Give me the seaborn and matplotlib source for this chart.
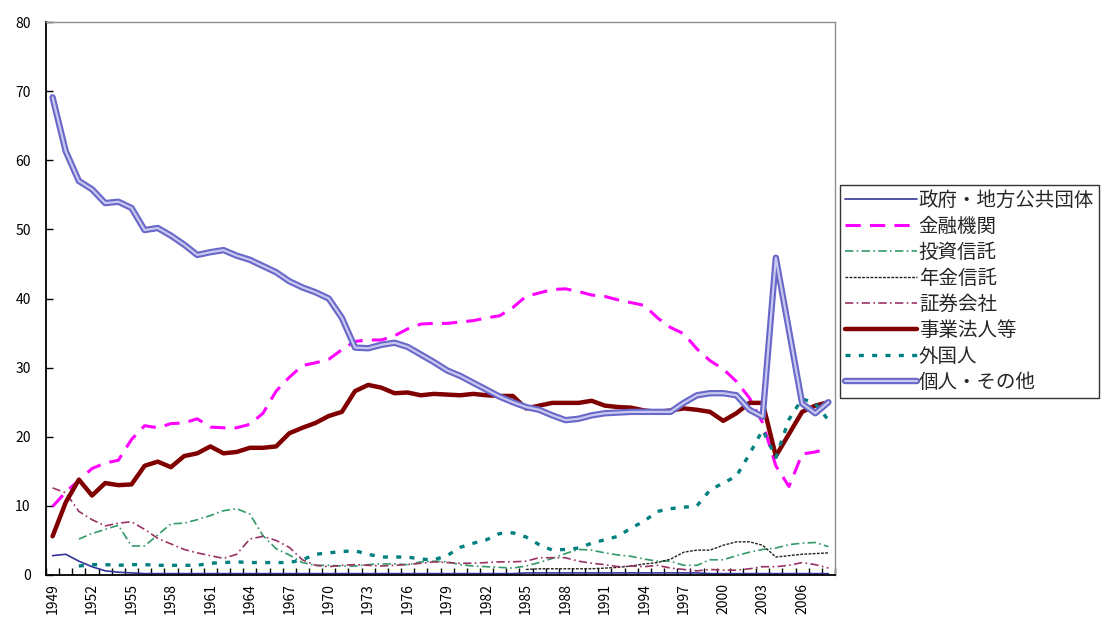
import numpy as np
import pandas as pd
import matplotlib
matplotlib.use("Agg")
import matplotlib.pyplot as plt
import matplotlib.patheffects as pe
import seaborn as sns

years = list(range(1949, 2009))

gov = [2.8, 3.0, 2.0, 1.2, 0.6, 0.4, 0.3, 0.2, 0.2, 0.2,
       0.2, 0.2, 0.2, 0.2, 0.2, 0.2, 0.2, 0.2, 0.2, 0.2,
       0.2, 0.2, 0.2, 0.2, 0.2, 0.2, 0.2, 0.2, 0.2, 0.2,
       0.2, 0.2, 0.2, 0.2, 0.2, 0.2, 0.3, 0.3, 0.3, 0.3,
       0.3, 0.3, 0.3, 0.3, 0.3, 0.3, 0.3, 0.3, 0.3, 0.3,
       0.2, 0.2, 0.2, 0.2, 0.2, 0.2, 0.2, 0.2, 0.2, 0.2]

fin = [9.9, 12.0, 13.7, 15.4, 16.2, 16.6, 19.6, 21.6, 21.3, 21.9,
       22.0, 22.6, 21.4, 21.3, 21.3, 21.8, 23.4, 26.6, 28.6, 30.3,
       30.7, 31.2, 32.6, 33.8, 34.0, 34.0, 34.6, 35.6, 36.3, 36.4,
       36.4, 36.6, 36.8, 37.2, 37.5, 38.7, 40.3, 40.8, 41.3, 41.4,
       41.0, 40.5, 40.3, 39.8, 39.4, 39.0, 37.2, 35.8, 34.9, 32.7,
       31.0, 29.8, 28.0, 25.6, 22.0, 15.8, 12.8, 17.5, 17.8, 18.3]

trust = [np.nan, np.nan, 5.2, 6.0, 6.6, 7.2, 4.2, 4.2, 5.8, 7.4,
         7.5, 8.0, 8.6, 9.3, 9.6, 8.8, 5.7, 3.8, 2.9, 1.8,
         1.4, 1.4, 1.3, 1.3, 1.5, 1.6, 1.6, 1.5, 1.9, 2.0,
         1.9, 1.5, 1.3, 1.2, 1.1, 1.0, 1.3, 1.8, 2.4, 3.1,
         3.7, 3.6, 3.2, 2.9, 2.7, 2.3, 2.0, 2.0, 1.4, 1.4,
         2.2, 2.2, 2.8, 3.3, 3.7, 3.9, 4.4, 4.6, 4.7, 4.1]

pension = [np.nan] * 36 + [0.8, 0.9, 0.9, 0.9, 0.9, 0.9, 1.0, 1.1, 1.3, 1.6,
                           1.8, 2.3, 3.3, 3.6, 3.6, 4.3, 4.8, 4.8, 4.3, 2.6,
                           2.8, 3.0, 3.1, 3.2]

sec = [12.6, 11.9, 9.2, 8.0, 7.1, 7.5, 7.7, 6.6, 5.3, 4.5,
       3.7, 3.2, 2.8, 2.4, 3.0, 5.2, 5.6, 5.0, 4.0, 2.2,
       1.4, 1.2, 1.4, 1.5, 1.4, 1.3, 1.4, 1.5, 1.7, 1.9,
       1.8, 1.7, 1.7, 1.8, 1.9, 1.9, 2.0, 2.5, 2.5, 2.5,
       2.0, 1.7, 1.5, 1.2, 1.3, 1.2, 1.4, 1.0, 0.8, 0.6,
       0.8, 0.7, 0.7, 0.9, 1.2, 1.2, 1.4, 1.8, 1.5, 1.0]

corp = [5.6, 10.5, 13.8, 11.5, 13.3, 13.0, 13.1, 15.8, 16.4, 15.6,
        17.2, 17.6, 18.6, 17.6, 17.8, 18.4, 18.4, 18.6, 20.5, 21.3,
        22.0, 23.0, 23.6, 26.6, 27.5, 27.1, 26.3, 26.4, 26.0, 26.2,
        26.1, 26.0, 26.2, 26.0, 25.9, 25.9, 24.1, 24.5, 24.9, 24.9,
        24.9, 25.2, 24.5, 24.3, 24.2, 23.8, 23.6, 23.8, 24.1, 23.9,
        23.6, 22.3, 23.4, 24.9, 24.9, 17.2, 20.4, 23.6, 24.5, 25.0]

foreign = [np.nan, np.nan, 1.3, 1.5, 1.5, 1.4, 1.5, 1.5, 1.4, 1.4,
           1.4, 1.4, 1.7, 1.8, 1.9, 1.8, 1.8, 1.8, 1.8, 2.2,
           3.0, 3.2, 3.4, 3.5, 3.0, 2.6, 2.6, 2.6, 2.3, 2.2,
           2.8, 4.0, 4.6, 5.1, 6.0, 6.1, 5.5, 4.4, 3.6, 3.7,
           3.9, 4.6, 5.1, 5.6, 6.8, 7.8, 9.2, 9.6, 9.8, 10.0,
           12.3, 13.3, 14.3, 17.5, 21.0, 17.0, 22.5, 25.5, 24.8, 22.4]

indiv = [69.1, 61.3, 57.0, 55.8, 53.8, 54.0, 53.1, 49.9, 50.2, 49.1,
         47.8, 46.3, 46.7, 47.0, 46.2, 45.6, 44.7, 43.8, 42.5, 41.6,
         40.9, 40.0, 37.2, 32.9, 32.8, 33.3, 33.6, 33.0, 31.9, 30.8,
         29.6, 28.8, 27.8, 26.8, 25.8, 25.0, 24.3, 23.9, 23.1, 22.4,
         22.6, 23.1, 23.4, 23.5, 23.6, 23.6, 23.6, 23.6, 24.9, 26.0,
         26.3, 26.3, 26.0, 23.9, 22.9, 45.9, 35.4, 24.8, 23.4, 25.0]

labels = ["政府・地方公共団体", "金融機関", "投資信託", "年金信託",
          "証券会社", "事業法人等", "外国人", "個人・その他"]

sns.set_theme(style="white")
plt.rcParams['font.family'] = ['Noto Sans CJK JP', 'DejaVu Sans']

fig = plt.figure(figsize=(11.04, 6.28), dpi=100)
ax = fig.add_axes([46/1104, 1-575/628, (835-46)/1104, (575-22)/628])

series = [
    (gov, dict(color="#333399", lw=1.2, linestyle="-")),
    (fin, dict(color="#FF00FF", lw=2.2, linestyle=(0, (5, 3)))),
    (trust, dict(color="#339966", lw=1.2, linestyle=(0, (5, 2, 1, 2)))),
    (pension, dict(color="#202020", lw=1.0, linestyle=(0, (2, 1)))),
    (sec, dict(color="#993366", lw=1.2, linestyle=(0, (5, 2, 1, 2)))),
    (corp, dict(color="#800000", lw=3.2, linestyle="-")),
    (foreign, dict(color="#008080", lw=2.4, linestyle=(0, (1.5, 2.5)))),
    (indiv, dict(color="#C8C8F0", lw=1.6, linestyle="-",
                 path_effects=[pe.Stroke(linewidth=4.6, foreground="#6868C8"), pe.Normal()])),
]

for (vals, style), lab in zip(series, labels):
    df = pd.DataFrame({"year": years, "value": vals}).dropna()
    sns.lineplot(data=df, x="year", y="value", ax=ax, label=lab, **style)

ax.set_xlim(1948.5, 2008.5)
ax.set_ylim(0, 80)
ax.set_yticks(range(0, 81, 10))
ax.set_xticks(list(range(1949, 2008, 3)))
ax.set_xticklabels([str(y) for y in range(1949, 2008, 3)], rotation=90)
ax.set_xticks(np.arange(1948.5, 2009, 1), minor=True)
ax.tick_params(axis="x", which="major", length=0, pad=6, labelsize=10, colors="black")
ax.tick_params(axis="x", which="minor", length=5, width=1, direction="in", color="black", bottom=True)
ax.tick_params(axis="y", which="major", length=5, width=1, direction="in", pad=11, labelsize=10, left=True, colors="black")
ax.set_xlabel("")
ax.set_ylabel("")
for s in ["left", "bottom"]:
    ax.spines[s].set_color("black")
    ax.spines[s].set_linewidth(1.3)
for s in ["top", "right"]:
    ax.spines[s].set_color("#909090")
    ax.spines[s].set_linewidth(1.0)
ax.set_facecolor("white")

leg = ax.legend(loc="upper left", bbox_to_anchor=(840/1104, 1-185/628),
                bbox_transform=fig.transFigure, frameon=True, fontsize=14,
                handlelength=3.7, handletextpad=0.1, labelspacing=0.26,
                borderpad=0.25, borderaxespad=0, fancybox=False)
leg.get_frame().set_edgecolor("black")
leg.get_frame().set_linewidth(1.0)

fig.savefig("out.png", dpi=100, facecolor="white")
